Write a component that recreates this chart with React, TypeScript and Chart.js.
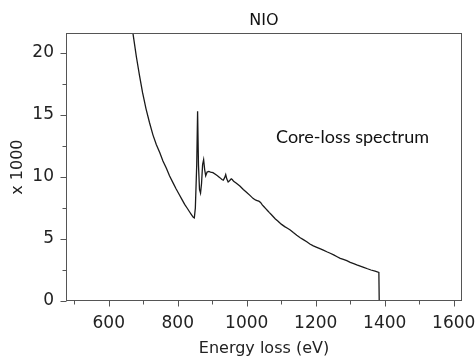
import React, { useEffect, useRef } from "react";
import { Chart, registerables } from "chart.js";

Chart.register(...registerables);

// Energy loss (eV)
const energy = [
  650, 660, 670, 680, 689, 698, 708, 718, 728, 738, 748, 757, 767, 776, 786,
  795, 805, 812, 820, 827, 834, 840, 845, 848,
  851, 855, 857.5, 860, 863, 866, 869, 872, 875, 878, 881, 885, 890, 895,
  902, 910, 915, 922, 928, 932, 936, 939, 942, 946, 950, 955, 958, 962,
  970, 980, 990, 1000, 1010, 1018, 1025, 1030, 1035, 1040, 1045, 1050, 1055,
  1060, 1065, 1071, 1077, 1083, 1090, 1100, 1110, 1118, 1126, 1135, 1145,
  1155, 1164, 1174, 1183, 1193, 1203, 1212, 1222, 1232, 1242, 1252, 1262,
  1271, 1280, 1290, 1300, 1310, 1319, 1329, 1339, 1350, 1360, 1372, 1383, 1384,
];
// Counts (x 1000)
const counts = [
  24.0, 22.8, 21.6, 19.7, 18.2, 16.8, 15.5, 14.4, 13.4, 12.6, 11.95, 11.3, 10.7, 10.1, 9.55,
  9.05, 8.55, 8.2, 7.8, 7.5, 7.2, 6.95, 6.75, 6.7,
  7.5, 11.0, 15.3, 11.0, 9.0, 8.7, 9.5, 11.0, 11.4, 10.6, 10.1, 10.4, 10.45, 10.4,
  10.35, 10.2, 10.1, 9.95, 9.8, 9.75, 9.95, 10.2, 9.85, 9.6, 9.7, 9.85, 9.8, 9.65,
  9.5, 9.27, 9.0, 8.75, 8.5, 8.28, 8.15, 8.1, 8.05, 7.95, 7.75, 7.6, 7.45,
  7.3, 7.15, 6.98, 6.8, 6.62, 6.45, 6.2, 6.0, 5.87, 5.73, 5.52, 5.3,
  5.1, 4.95, 4.78, 4.6, 4.45, 4.33, 4.22, 4.1, 3.97, 3.85, 3.72, 3.57,
  3.44, 3.35, 3.25, 3.12, 3.02, 2.92, 2.82, 2.72, 2.6, 2.5, 2.4, 2.3, 0,
];

const xMajorTicks = [600, 800, 1000, 1200, 1400, 1600];
const xMinorTicks = [500, 700, 900, 1100, 1300, 1500];
const yMajorTicks = [0, 5, 10, 15, 20];
const yMinorTicks = [2.5, 7.5, 12.5, 17.5];

const X_MIN = 476;
const X_MAX = 1624;
const Y_MIN = 0;
const Y_MAX = 21.6;

const chartTitle = "NIO";
const xTitle = "Energy loss (eV)";
const yTitle = "x 1000";
const annotationText = "Core-loss spectrum";
const annotationX = 1085;
const annotationY = 13.25;

export default function App() {
  const ref = useRef<HTMLCanvasElement>(null);

  useEffect(() => {
    document.body.style.margin = "0";
    const canvas = ref.current;
    if (!canvas) return;

    const framePlugin = {
      id: "frameTicks",
      afterDraw(chart: any) {
        const { ctx, chartArea: a, scales } = chart;
        const xs = scales.x;
        const ys = scales.y;
        ctx.save();
        ctx.strokeStyle = "#555";
        ctx.lineWidth = 1;
        const L = Math.round(a.left) + 0.5;
        const R = Math.round(a.right) - 0.5;
        const T = Math.round(a.top) + 0.5;
        const B = Math.round(a.bottom) - 0.5;
        ctx.strokeRect(L, T, R - L, B - T);
        ctx.beginPath();
        const drawX = (v: number, len: number) => {
          const px = Math.round(xs.getPixelForValue(v)) + 0.5;
          ctx.moveTo(px, B);
          ctx.lineTo(px, B + len);
        };
        const drawY = (v: number, len: number) => {
          const py = Math.round(ys.getPixelForValue(v)) + 0.5;
          ctx.moveTo(L, py);
          ctx.lineTo(L - len, py);
        };
        xMajorTicks.forEach((v) => drawX(v, 6));
        xMinorTicks.forEach((v) => drawX(v, 4));
        yMajorTicks.forEach((v) => drawY(v, 6));
        yMinorTicks.forEach((v) => drawY(v, 4));
        ctx.stroke();

        ctx.fillStyle = "#111";
        ctx.font = "18px Lato";
        ctx.textAlign = "left";
        ctx.textBaseline = "middle";
        ctx.fillText(
          annotationText,
          xs.getPixelForValue(annotationX),
          ys.getPixelForValue(annotationY)
        );
        ctx.restore();
      },
    };

    const chart = new Chart(canvas, {
      type: "line",
      data: {
        datasets: [
          {
            data: energy.map((e, i) => ({ x: e, y: counts[i] })),
            borderColor: "#1a1a1a",
            borderWidth: 1.3,
            pointRadius: 0,
            tension: 0,
            fill: false,
          },
        ],
      },
      options: {
        animation: false,
        responsive: false,
        events: [],
        layout: { padding: { left: 0, right: 14, top: 0, bottom: 0 } },
        plugins: {
          legend: { display: false },
          tooltip: { enabled: false },
          title: {
            display: true,
            text: chartTitle,
            fullSize: false,
            color: "#111",
            font: { family: "DejaVu Sans", size: 16, weight: "normal" },
            padding: { top: 11, bottom: 3 },
          },
        },
        scales: {
          x: {
            type: "linear",
            min: X_MIN,
            max: X_MAX,
            afterBuildTicks: (s: any) => {
              s.ticks = xMajorTicks.map((v) => ({ value: v }));
            },
            afterFit: (s: any) => {
              s.height = 57;
              s.paddingLeft = 0;
              s.paddingRight = 0;
            },
            grid: { display: false, drawTicks: false },
            border: { display: false },
            ticks: {
              color: "#222",
              font: { family: "DejaVu Sans", size: 17 },
              padding: 12,
              maxRotation: 0,
              autoSkip: false,
              callback: (v: any) => String(v),
            },
            title: {
              display: true,
              text: xTitle,
              color: "#222",
              font: { family: "DejaVu Sans", size: 16 },
              padding: { top: 0, bottom: 0 },
            },
          },
          y: {
            type: "linear",
            min: Y_MIN,
            max: Y_MAX,
            afterBuildTicks: (s: any) => {
              s.ticks = yMajorTicks.map((v) => ({ value: v }));
            },
            afterFit: (s: any) => {
              s.width = 66;
              s.paddingTop = 0;
              s.paddingBottom = 0;
            },
            grid: { display: false, drawTicks: false },
            border: { display: false },
            ticks: {
              color: "#222",
              font: { family: "DejaVu Sans", size: 17 },
              padding: 12,
              autoSkip: false,
              callback: (v: any) => String(v),
            },
            title: {
              display: true,
              text: yTitle,
              color: "#222",
              font: { family: "DejaVu Sans", size: 16 },
              padding: { top: 8, bottom: 0 },
            },
          },
        },
      },
      plugins: [framePlugin],
    });

    return () => chart.destroy();
  }, []);

  return (
    <div style={{ position: "absolute", left: 0, top: 0, width: 476, height: 358, background: "#fff" }}>
      <canvas ref={ref} width={476} height={358} style={{ width: 476, height: 358, display: "block" }} />
    </div>
  );
}
